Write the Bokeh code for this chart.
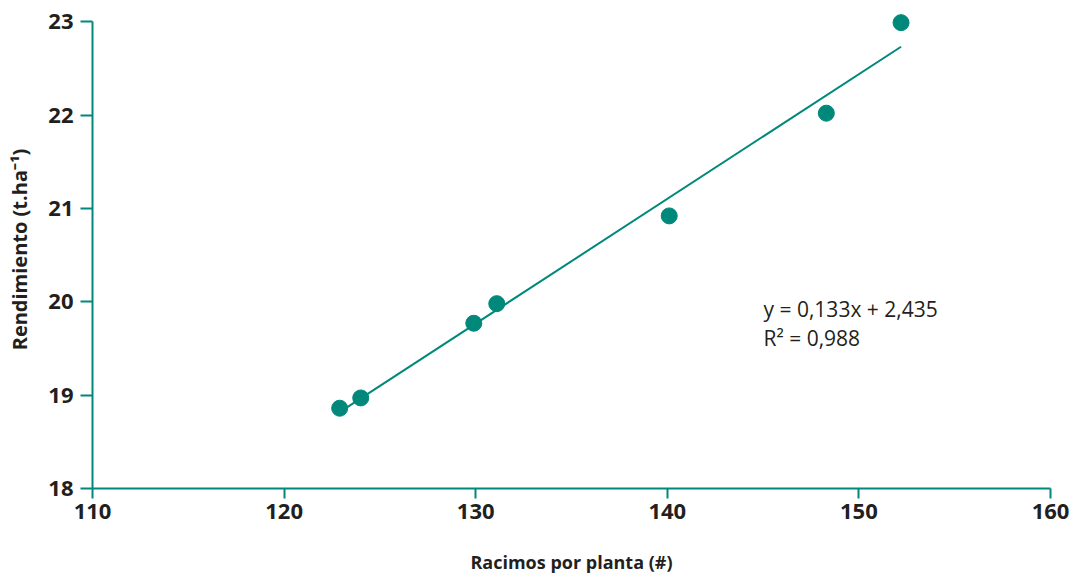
import numpy as np
from bokeh.plotting import figure
from bokeh.models import ColumnDataSource, FixedTicker, Range1d
from bokeh.core.properties import value
from bokeh.embed import file_html
from bokeh.resources import INLINE

# data
racimos = [122.9, 124.0, 129.9, 131.1, 140.1, 148.3, 152.2]
rendimiento = [18.86, 18.97, 19.77, 19.98, 20.92, 22.02, 22.99]
x_ticks = [110, 120, 130, 140, 150, 160]
y_ticks = [18, 19, 20, 21, 22, 23]
eq_lines = ["y = 0,133x + 2,435", "R² = 0,988"]

TEAL = "#00887a"
DARK = "#231f20"
FONT = "Open Sans"

p = figure(width=1072, height=579, output_backend="svg", toolbar_location=None,
           x_range=Range1d(110, 160), y_range=Range1d(18, 23.12),
           min_border_left=92, min_border_right=22, min_border_top=10, min_border_bottom=91)
p.outline_line_color = None
p.grid.visible = False
p.background_fill_color = "white"

# trend line from least squares fit
slope, intercept = np.polyfit(racimos, rendimiento, 1)
xs = [min(racimos), max(racimos)]
p.line(xs, [slope * x + intercept for x in xs], line_color=TEAL, line_width=2)

src = ColumnDataSource(dict(x=racimos, y=rendimiento))
p.scatter("x", "y", source=src, size=16, fill_color=TEAL, line_color=TEAL)

p.text(x=[145.02, 145.02], y=[19.92, 19.61], text=eq_lines,
       text_font=value(FONT), text_font_size="21px", text_color=DARK,
       text_baseline="middle", text_align="left")

for ax in (p.xaxis[0], p.yaxis[0]):
    ax.axis_line_color = TEAL
    ax.axis_line_width = 2
    ax.major_tick_line_color = TEAL
    ax.major_tick_line_width = 2
    ax.major_tick_in = 0
    ax.minor_tick_line_color = None
    ax.major_label_text_font = FONT
    ax.major_label_text_font_style = "bold"
    ax.major_label_text_font_size = "22px"
    ax.major_label_text_color = DARK
    ax.axis_label_text_font = FONT
    ax.axis_label_text_font_style = "bold"
    ax.axis_label_text_color = DARK

p.xaxis[0].ticker = FixedTicker(ticks=x_ticks)
p.yaxis[0].ticker = FixedTicker(ticks=y_ticks)
p.xaxis[0].bounds = (110, 160)
p.yaxis[0].bounds = (18, 23)
p.xaxis[0].axis_label = "Racimos por planta (#)"
p.yaxis[0].axis_label = "Rendimiento (t.ha⁻¹)"
p.xaxis[0].axis_label_text_font_size = "18px"
p.yaxis[0].axis_label_text_font_size = "20px"
p.xaxis[0].major_tick_out = 10
p.yaxis[0].major_tick_out = 12
p.xaxis[0].major_label_standoff = 5
p.yaxis[0].major_label_standoff = 7
p.xaxis[0].axis_label_standoff = 28
p.yaxis[0].axis_label_standoff = 12

open("out.html", "w").write(file_html(p, INLINE))
